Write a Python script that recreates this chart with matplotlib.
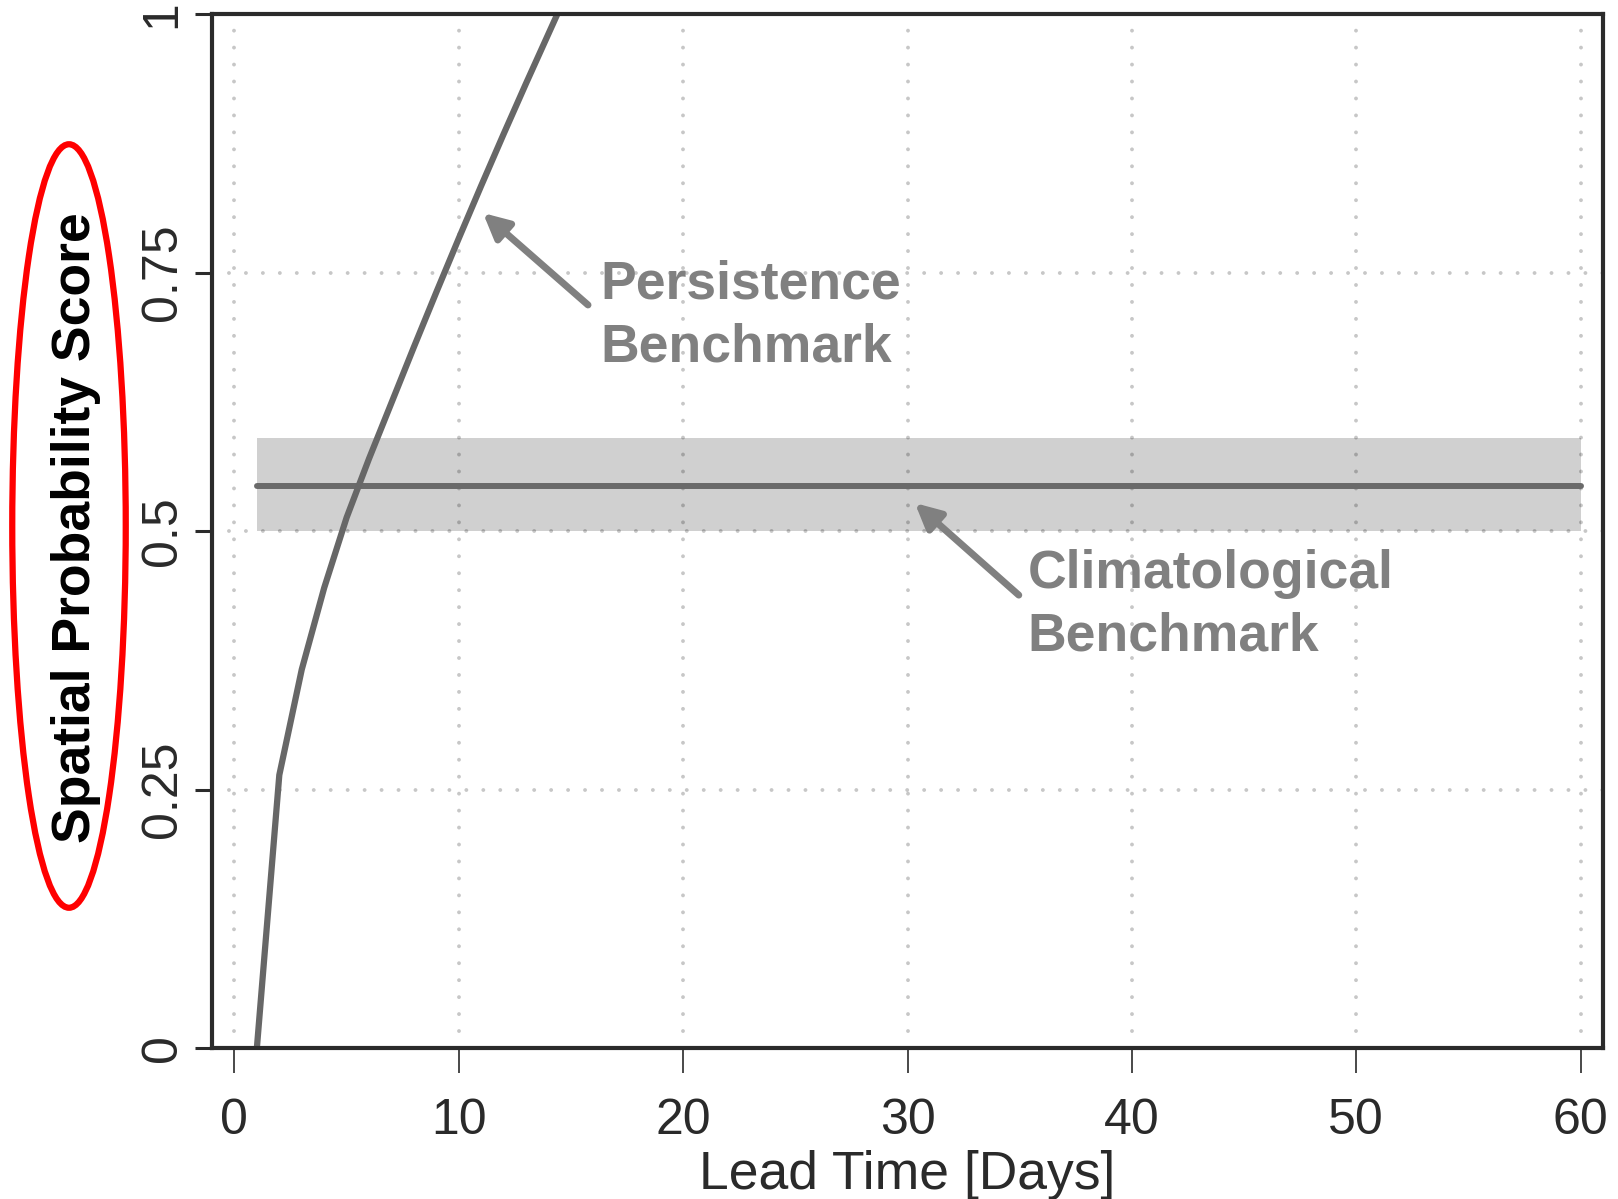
import matplotlib
matplotlib.use('Agg')
import matplotlib.pyplot as plt
from matplotlib.patches import Ellipse

# ---------------- data ----------------
lead_days = [1, 2, 3, 4, 5, 6, 7, 8, 9, 10, 11, 12, 13, 14, 15]
persistence_score = [0.0, 0.264, 0.366, 0.445, 0.513, 0.570, 0.624, 0.678,
                     0.731, 0.783, 0.834, 0.884, 0.933, 0.981, 1.029]
clim_days = [1, 60]
clim_score = [0.5435, 0.5435]
clim_lower = [0.5, 0.5]
clim_upper = [0.59, 0.59]
x_ticks = [0, 10, 20, 30, 40, 50, 60]
x_tick_labels = ['0', '10', '20', '30', '40', '50', '60']
y_ticks = [0, 0.25, 0.5, 0.75, 1]
y_tick_labels = ['0', '0.25', '0.5', '0.75', '1']
grid_y = [0.25, 0.5, 0.75]

plt.rcParams['font.family'] = ['Liberation Sans', 'DejaVu Sans']

W, H = 1618, 1199
fig = plt.figure(figsize=(W / 100, H / 100), dpi=100)
fig.patch.set_facecolor('white')
ax = fig.add_axes([212 / W, 1 - 1048 / H, (1603 - 212) / W, (1048 - 14) / H])

# band and grid
ax.fill_between(clim_days, clim_lower, clim_upper, color='#d0d0d0', lw=0, zorder=1)
grid_kw = dict(color=(0, 0, 0, 0.22), lw=2.8, dashes=(0.01, 4.35),
               dash_capstyle='round', zorder=1.5)
for xv in x_ticks:
    ax.axvline(xv, **grid_kw)
for yv in grid_y:
    ax.axhline(yv, **grid_kw)

# lines
ax.plot(clim_days, clim_score, color='#6a6a6a', lw=4.3, solid_capstyle='round', zorder=2)
ax.plot(lead_days, persistence_score, color='#676767', lw=4.5, zorder=3)

ax.set_xlim(-1, 61)
ax.set_ylim(0, 1)

# spines
for s in ax.spines.values():
    s.set_linewidth(3)
    s.set_color('#2b2b2b')
    s.set_zorder(5)

# ticks
ax.set_xticks(x_ticks, labels=x_tick_labels)
ax.set_yticks(y_ticks, labels=y_tick_labels)
ax.tick_params(axis='x', direction='out', length=18, width=1.3, color='#3a3a3a',
               pad=18, labelsize=36, labelcolor='#2a2a2a')
ax.tick_params(axis='y', direction='out', length=12, width=2.2, color='#2b2b2b',
               pad=7, labelsize=36, labelcolor='#2a2a2a')
for lbl in ax.get_yticklabels():
    lbl.set_rotation(90)
    lbl.set_va('center')
    lbl.set_ha('right')

# axis labels
fig.text(907.5 / W, 1 - 1189 / H, 'Lead Time [Days]', fontsize=38.5,
         color='#2a2a2a', ha='center', va='baseline')
fig.text(90 / W, 1 - 528 / H, 'Spatial Probability Score', fontsize=38.5,
         fontweight='bold', color='black', rotation=90, rotation_mode='anchor',
         ha='center', va='baseline')

# red ellipse highlight
ell = Ellipse((69 / W, 1 - 526 / H), 113.5 / W, 763.5 / H, transform=fig.transFigure,
              fill=False, edgecolor='#ff0000', lw=4.5, zorder=10)
fig.patches.append(ell)

# annotations
arrow_kw = dict(arrowstyle='-|>,head_length=0.4,head_width=0.2', mutation_scale=38,
                lw=5, color='#808080', shrinkA=0, shrinkB=0)
ax.annotate('', xy=(11.08, 0.8075), xytext=(15.76, 0.7186), arrowprops=arrow_kw, zorder=4)
ax.annotate('', xy=(30.33, 0.527), xytext=(34.96, 0.438), arrowprops=arrow_kw, zorder=4)

txt_kw = dict(fontsize=38.5, fontweight='bold', color='#808080', ha='left', va='baseline', zorder=4)
ax.text(16.3, 0.7244, 'Persistence', **txt_kw)
ax.text(16.3, 0.6644, 'Benchmark', **txt_kw)
ax.text(35.35, 0.445, 'Climatological', **txt_kw)
ax.text(35.35, 0.384, 'Benchmark', **txt_kw)

fig.savefig('out.png', dpi=100)
